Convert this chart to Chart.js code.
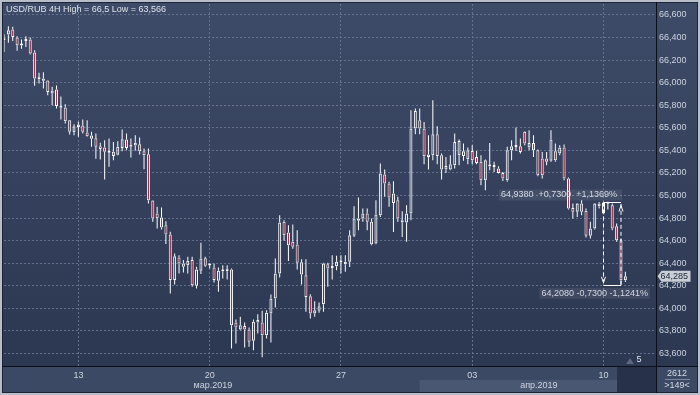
<!DOCTYPE html>
<html>
<head>
<meta charset="utf-8">
<script src="https://cdn.jsdelivr.net/npm/chart.js@4.4.1/dist/chart.umd.min.js"></script>
<style>
  html, body { margin: 0; padding: 0; background: #b7bec9; }
  canvas { display: block; }
</style>
</head>
<body>
<canvas id="chart" width="700" height="395"></canvas>
<script>
// USD/RUB 4H candles (index = bar number from the left edge)
const symbol = 'USD/RUB';
const timeframe = '4H';
const sessionHigh = '66,5';
const sessionLow = '63,566';

const opens = [
  66.376, 66.427, 66.471, 66.400, 66.341, 66.370, 66.382, 66.267, 66.031, 66.037,
  66.019, 65.904, 65.939, 65.777, 65.780, 65.667, 65.561, 65.608, 65.620, 65.558,
  65.532, 65.508, 65.437, 65.425, 65.378, 65.387, 65.360, 65.422, 65.496, 65.431,
  65.443, 65.455, 65.393, 65.366, 64.955, 64.840, 64.805, 64.737, 64.654, 64.250,
  64.450, 64.397, 64.382, 64.427, 64.199, 64.332, 64.444, 64.385, 64.362, 64.244,
  64.326, 64.331, 64.344, 63.874, 63.812, 63.844, 63.812, 63.712, 63.874, 63.874,
  63.762, 63.954, 64.087, 64.308, 64.766, 64.672, 64.589, 64.565, 64.409, 64.293,
  64.107, 63.954, 63.977, 64.036, 64.391, 64.357, 64.373, 64.405, 64.391, 64.412,
  64.642, 64.775, 64.796, 64.840, 64.766, 64.574, 64.825, 65.186, 65.106, 65.017,
  64.958, 64.760, 64.760, 64.840, 65.593, 65.667, 65.593, 65.342, 65.357, 65.543,
  65.357, 65.230, 65.230, 65.268, 65.357, 65.351, 65.321, 65.395, 65.342, 65.298,
  65.135, 65.258, 65.256, 65.239, 65.200, 65.135, 65.401, 65.429, 65.437, 65.564,
  65.425, 65.466, 65.401, 65.327, 65.327, 65.307, 65.392, 65.372, 65.425, 65.150,
  64.890, 64.855, 64.929, 64.864, 64.642, 64.707, 64.905, 64.938, 64.930, 64.914,
  64.728, 64.604, 64.249
];
const highs = [
  66.430, 66.500, 66.495, 66.412, 66.382, 66.412, 66.400, 66.288, 66.087, 66.093,
  66.022, 65.963, 65.975, 65.877, 65.809, 65.670, 65.632, 65.653, 65.673, 65.667,
  65.564, 65.549, 65.467, 65.490, 65.505, 65.475, 65.481, 65.585, 65.549, 65.505,
  65.534, 65.514, 65.416, 65.416, 64.958, 64.899, 64.893, 64.772, 64.678, 64.486,
  64.471, 64.427, 64.456, 64.456, 64.368, 64.580, 64.456, 64.397, 64.397, 64.362,
  64.382, 64.382, 64.353, 63.901, 63.924, 63.874, 63.830, 63.901, 63.948, 63.977,
  63.983, 64.122, 64.441, 64.825, 64.781, 64.737, 64.742, 64.692, 64.435, 64.435,
  64.125, 64.063, 64.051, 64.403, 64.403, 64.471, 64.465, 64.471, 64.471, 64.692,
  64.905, 64.982, 64.884, 64.884, 64.796, 64.958, 65.283, 65.230, 65.121, 65.127,
  64.988, 64.861, 64.914, 65.756, 65.770, 65.770, 65.652, 65.534, 65.844, 65.614,
  65.372, 65.342, 65.357, 65.549, 65.496, 65.460, 65.425, 65.446, 65.395, 65.357,
  65.318, 65.466, 65.298, 65.259, 65.209, 65.431, 65.490, 65.602, 65.505, 65.570,
  65.578, 65.534, 65.407, 65.386, 65.386, 65.578, 65.460, 65.446, 65.451, 65.159,
  64.929, 64.934, 64.958, 64.884, 64.766, 64.934, 64.943, 64.945, 64.945, 64.929,
  64.751, 64.618, 64.323
];
const lows = [
  66.273, 66.353, 66.370, 66.282, 66.300, 66.317, 66.249, 65.972, 65.992, 65.948,
  65.889, 65.800, 65.771, 65.673, 65.638, 65.540, 65.534, 65.520, 65.549, 65.520,
  65.431, 65.325, 65.319, 65.142, 65.254, 65.313, 65.357, 65.393, 65.402, 65.337,
  65.396, 65.363, 65.233, 64.929, 64.766, 64.707, 64.698, 64.569, 64.131, 64.211,
  64.309, 64.318, 64.309, 64.190, 64.176, 64.303, 64.368, 64.353, 64.229, 64.146,
  64.264, 64.255, 63.644, 63.688, 63.806, 63.652, 63.658, 63.629, 63.776, 63.566,
  63.732, 63.697, 64.007, 64.273, 64.598, 64.420, 64.527, 64.344, 64.211, 63.969,
  63.909, 63.924, 63.960, 63.969, 64.190, 64.255, 64.338, 64.308, 64.323, 64.367,
  64.633, 64.692, 64.766, 64.692, 64.559, 64.568, 64.810, 64.988, 64.899, 64.677,
  64.766, 64.633, 64.589, 64.781, 65.543, 65.543, 65.277, 65.230, 65.313, 65.277,
  65.141, 65.200, 65.224, 65.239, 65.268, 65.307, 65.277, 65.277, 65.277, 65.091,
  65.047, 65.224, 65.209, 65.194, 65.129, 65.121, 65.313, 65.395, 65.372, 65.446,
  65.401, 65.342, 65.171, 65.150, 65.268, 65.298, 65.298, 65.357, 65.135, 64.875,
  64.796, 64.810, 64.825, 64.627, 64.618, 64.698, 64.884, 64.834, 64.875, 64.692,
  64.589, 64.208, 64.234
];
const closes = [
  66.391, 66.465, 66.406, 66.332, 66.329, 66.382, 66.258, 66.037, 66.043, 66.016,
  65.918, 65.930, 65.794, 65.797, 65.659, 65.564, 65.614, 65.629, 65.564, 65.526,
  65.502, 65.431, 65.413, 65.387, 65.380, 65.351, 65.431, 65.499, 65.422, 65.452,
  65.467, 65.393, 65.357, 64.958, 64.796, 64.799, 64.716, 64.654, 64.250, 64.462,
  64.397, 64.368, 64.421, 64.205, 64.344, 64.441, 64.377, 64.379, 64.250, 64.332,
  64.332, 64.329, 63.850, 63.830, 63.850, 63.812, 63.703, 63.880, 63.895, 63.762,
  63.960, 64.087, 64.308, 64.760, 64.648, 64.559, 64.545, 64.403, 64.299, 64.101,
  63.954, 63.983, 64.019, 64.397, 64.353, 64.361, 64.412, 64.409, 64.412, 64.648,
  64.796, 64.796, 64.840, 64.766, 64.568, 64.831, 65.194, 65.106, 64.982, 64.934,
  64.796, 64.781, 64.840, 65.593, 65.750, 65.593, 65.348, 65.363, 65.543, 65.351,
  65.230, 65.262, 65.277, 65.475, 65.484, 65.392, 65.401, 65.313, 65.289, 65.135,
  65.313, 65.262, 65.253, 65.200, 65.150, 65.401, 65.437, 65.433, 65.386, 65.460,
  65.466, 65.401, 65.180, 65.180, 65.298, 65.496, 65.313, 65.425, 65.150, 64.884,
  64.855, 64.929, 64.855, 64.642, 64.707, 64.929, 64.929, 64.840, 64.926, 64.707,
  64.604, 64.249, 64.285
];

const yTicks = [63.6, 63.8, 64.0, 64.2, 64.4, 64.6, 64.8, 65.0, 65.2, 65.4, 65.6, 65.8, 66.0, 66.2, 66.4, 66.6];
const dayTicks = [17, 47, 77, 107, 137];
const dayLabels = ['13', '20', '27', '03', '10'];
const monthLabels = ['мар.2019', 'апр.2019'];
const monthStarts = [0, 95];

// measuring tool drawn on the chart
const measureFrom = 137;
const measureTo = 141;
const measureHigh = 64.938;
const measureLow = 64.208;

const visibleBars = 149;
const shiftBars = 5;
const scrollStart = 140.1;
const counter = '2612';

const FONT = '"Liberation Sans", Arial, sans-serif';
const BEAR = '#b0304e';
const TEXT = '#ccd3de';

const comma = (v, d) => v.toFixed(d).replace('.', ',');

const bodies = opens.map((o, i) => ({ x: i, y: [Math.min(o, closes[i]), Math.max(o, closes[i])] }));
const upperWicks = opens.map((o, i) => ({ x: i, y: [Math.max(o, closes[i]), highs[i]] }));
const lowerWicks = opens.map((o, i) => ({ x: i, y: [lows[i], Math.min(o, closes[i])] }));

const chrome = {
  id: 'chrome',
  beforeDraw(chart) {
    const { ctx, chartArea: a, width, height } = chart;
    const xs = chart.scales.x;
    ctx.save();
    ctx.fillStyle = '#b7bec9';
    ctx.fillRect(0, 0, width, height);
    const g = ctx.createLinearGradient(0, a.top, 0, a.bottom);
    g.addColorStop(0, '#3e4b68');
    g.addColorStop(1, '#2c3751');
    ctx.fillStyle = g;
    ctx.fillRect(2, 2, width - 4, a.bottom - 2);
    ctx.fillStyle = '#3c4964';
    ctx.fillRect(2, a.bottom, width - 4, height - 2 - a.bottom);
    // highlighted month cell and scroll box
    const mx = xs.getPixelForValue(monthStarts[1]);
    const sx = xs.getPixelForValue(scrollStart);
    ctx.fillStyle = '#4a5773';
    ctx.fillRect(mx, a.bottom + 14, sx - mx, height - 2 - a.bottom - 14);
    ctx.fillStyle = '#28314a';
    ctx.fillRect(sx, a.bottom, a.right - sx, height - 2 - a.bottom);
    ctx.restore();
  },
  afterDatasetsDraw(chart) {
    const { ctx, chartArea: a } = chart;
    const xs = chart.scales.x, ys = chart.scales.y;
    const x1 = xs.getPixelForValue(measureFrom);
    const x2 = xs.getPixelForValue(measureTo);
    const yt = ys.getPixelForValue(measureHigh);
    const yb = ys.getPixelForValue(measureLow);
    const line = (ax, ay, bx, by) => { ctx.beginPath(); ctx.moveTo(ax, ay); ctx.lineTo(bx, by); ctx.stroke(); };
    ctx.save();
    ctx.strokeStyle = '#ffffff';
    ctx.lineWidth = 1;
    line(x1, Math.round(yt) + 0.5, x2, Math.round(yt) + 0.5);
    line(x1, Math.round(yb) + 0.5, x2, Math.round(yb) + 0.5);
    ctx.setLineDash([4, 3]);
    line(x1, yt, x1, yb);
    line(x2, yb, x2, yt);
    ctx.setLineDash([]);
    line(x1 - 2, yb - 8, x1, yb - 2);
    line(x1, yb - 2, x1 + 2, yb - 8);
    line(x2 - 2, yt + 9, x2, yt + 3);
    line(x2, yt + 3, x2 + 2, yt + 9);

    const diff = measureHigh - measureLow;
    const upText = comma(measureHigh, 4) + '  +' + comma(diff, 4) + '  +' + comma(diff / measureLow * 100, 4) + '%';
    const dnText = comma(measureLow, 4) + ' -' + comma(diff, 4) + ' -' + comma(diff / measureHigh * 100, 4) + '%';
    ctx.font = '9px ' + FONT;
    ctx.textBaseline = 'middle';
    ctx.textAlign = 'left';
    let w = ctx.measureText(upText).width;
    ctx.fillStyle = 'rgba(255,255,255,0.08)';
    ctx.fillRect(x2 - w - 6, yt - 13, w + 7, 11);
    ctx.fillStyle = '#d3d8e1';
    ctx.fillText(upText, x2 - w - 4, yt - 7.5);
    w = ctx.measureText(dnText).width;
    const bx = a.right - 6 - w - 4;
    ctx.fillStyle = 'rgba(255,255,255,0.08)';
    ctx.fillRect(bx, yb + 3, w + 4, 11);
    ctx.fillStyle = '#d3d8e1';
    ctx.fillText(dnText, bx + 2, yb + 8.5);
    ctx.restore();
  },
  afterDraw(chart) {
    const { ctx, chartArea: a, width, height } = chart;
    const xs = chart.scales.x, ys = chart.scales.y;
    ctx.save();
    ctx.strokeStyle = '#1c2436';
    ctx.lineWidth = 1;
    ctx.strokeRect(2.5, 2.5, width - 5, height - 5);
    ctx.strokeStyle = '#0b0f18';
    ctx.beginPath();
    ctx.moveTo(Math.round(a.right) + 0.5, 2);
    ctx.lineTo(Math.round(a.right) + 0.5, height - 2);
    ctx.moveTo(2, Math.round(a.bottom) + 0.5);
    ctx.lineTo(width - 2, Math.round(a.bottom) + 0.5);
    ctx.stroke();

    ctx.font = '9px ' + FONT;
    ctx.textBaseline = 'middle';
    ctx.textAlign = 'left';
    ctx.fillStyle = '#dde1e8';
    ctx.fillText(symbol + ' ' + timeframe + ' High = ' + sessionHigh + ' Low = ' + sessionLow, 6, 10);

    // month row
    ctx.textAlign = 'center';
    ctx.fillStyle = TEXT;
    monthLabels.forEach((m, k) => {
      const l = Math.max(a.left, xs.getPixelForValue(monthStarts[k]));
      const r = k + 1 < monthStarts.length ? xs.getPixelForValue(monthStarts[k + 1]) : a.right;
      ctx.fillText(m, (l + r) / 2 + 1, a.bottom + 20);
    });

    // bars shift marker
    const tx = a.right - 26, ty = a.bottom - 5;
    ctx.fillStyle = '#5b6782';
    ctx.beginPath();
    ctx.moveTo(tx - 4, ty + 3);
    ctx.lineTo(tx, ty - 3);
    ctx.lineTo(tx + 4, ty + 3);
    ctx.closePath();
    ctx.fill();
    ctx.fillStyle = '#dfe3ea';
    ctx.fillText(String(shiftBars), a.right - 17, ty - 1);

    // corner counters
    const cx = (a.right + width) / 2;
    ctx.fillStyle = '#d4d9e2';
    ctx.fillText(counter, cx - 1, a.bottom + 8);
    ctx.fillText('>' + visibleBars + '<', cx - 1, a.bottom + 20);
    ctx.strokeStyle = '#7d889c';
    ctx.beginPath();
    ctx.moveTo(cx - 13, a.bottom + 13.5);
    ctx.lineTo(cx + 12, a.bottom + 13.5);
    ctx.stroke();

    // last price marker
    const last = closes[closes.length - 1];
    const py = ys.getPixelForValue(last);
    const px = a.right + 1.5;
    ctx.fillStyle = '#c9ced7';
    ctx.beginPath();
    ctx.moveTo(px, py);
    ctx.lineTo(px + 4, py - 5.5);
    ctx.lineTo(px + 33, py - 5.5);
    ctx.lineTo(px + 33, py + 5.5);
    ctx.lineTo(px + 4, py + 5.5);
    ctx.closePath();
    ctx.fill();
    ctx.fillStyle = '#1c2332';
    ctx.textAlign = 'left';
    ctx.fillText(comma(last, 3), px + 3, py + 0.5);
    ctx.restore();
  }
};

new Chart(document.getElementById('chart'), {
  type: 'bar',
  data: {
    datasets: [
      {
        data: bodies,
        backgroundColor: (c) => closes[c.dataIndex] < opens[c.dataIndex] ? BEAR : 'rgba(0,0,0,0)',
        borderColor: '#ffffff',
        borderWidth: 1,
        borderSkipped: false,
        barThickness: 3,
        minBarLength: 2,
        inflateAmount: 0,
        grouped: false
      },
      {
        data: upperWicks,
        backgroundColor: '#ffffff',
        borderWidth: 0,
        barThickness: 1,
        inflateAmount: 0,
        grouped: false
      },
      {
        data: lowerWicks,
        backgroundColor: '#ffffff',
        borderWidth: 0,
        barThickness: 1,
        inflateAmount: 0,
        grouped: false
      }
    ]
  },
  options: {
    responsive: false,
    animation: false,
    events: [],
    layout: { padding: { left: 4, top: 4, right: 0, bottom: 0 } },
    plugins: { legend: { display: false }, tooltip: { enabled: false } },
    scales: {
      x: {
        type: 'linear',
        min: 0,
        max: visibleBars,
        offset: false,
        position: 'bottom',
        afterBuildTicks: (axis) => { axis.ticks = dayTicks.map((v) => ({ value: v })); },
        afterFit: (axis) => { axis.height = 29; axis.paddingLeft = 0; axis.paddingRight = 0; },
        ticks: {
          callback: (v) => dayLabels[dayTicks.indexOf(v)],
          color: TEXT,
          font: { family: FONT, size: 9 },
          padding: 4,
          maxRotation: 0,
          autoSkip: false
        },
        grid: { color: '#63718e', lineWidth: 1, drawTicks: false, offset: false },
        border: { display: false, dash: [2, 2] }
      },
      y: {
        type: 'linear',
        position: 'right',
        min: 63.4883,
        max: 66.6975,
        afterBuildTicks: (axis) => { axis.ticks = yTicks.map((v) => ({ value: v })); },
        afterFit: (axis) => { axis.width = 44; axis.paddingTop = 0; axis.paddingBottom = 0; },
        ticks: {
          callback: (v) => comma(v, 3),
          color: TEXT,
          font: { family: FONT, size: 9 },
          padding: 3
        },
        grid: { color: '#63718e', lineWidth: 1, drawTicks: false },
        border: { display: false, dash: [2, 2] }
      }
    }
  },
  plugins: [chrome]
});
</script>
</body>
</html>
